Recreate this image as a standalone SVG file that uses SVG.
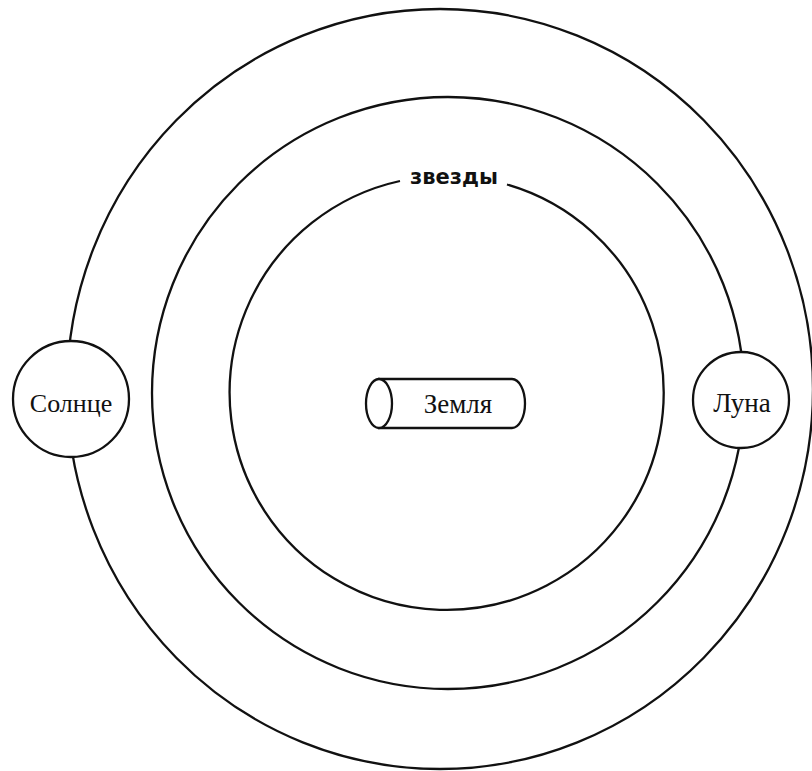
<svg xmlns="http://www.w3.org/2000/svg" width="812" height="771" viewBox="0 0 812 771">
<style>
.ln{fill:none;stroke:#111;stroke-width:2.3}
.body{fill:#fff;stroke:#111;stroke-width:2.3}
.serif{font-family:"Liberation Serif","Times New Roman",serif;font-size:26px;fill:#111;text-anchor:middle}
.sans{font-family:"DejaVu Sans","Liberation Sans",sans-serif;font-size:21px;font-weight:bold;fill:#111;text-anchor:middle}
</style>
<rect width="812" height="771" fill="#fff"/>
<g id="connectors">
<ellipse id="outer-orbit" class="ln" cx="440" cy="389" rx="373" ry="380"/>
<circle id="middle-orbit" class="ln" cx="448" cy="393" r="296"/>
<path id="stars-orbit" class="ln" d="M 400 181 A 217 217 0 1 0 507 184.5"/>
</g>
<g id="stars">
<text class="sans" x="454" y="184">звезды</text>
</g>
<g id="earth">
<path class="body" d="M 379 379 L 512 379 A 13 24.5 0 0 1 512 428 L 379 428 Z"/>
<ellipse class="body" cx="379" cy="403.5" rx="13" ry="24.5"/>
<text class="serif" x="458" y="413" style="font-size:27px">Земля</text>
</g>
<g id="sun">
<circle class="body" cx="71" cy="399" r="58"/>
<text class="serif" x="71" y="412">Солнце</text>
</g>
<g id="moon">
<circle class="body" cx="741" cy="400" r="48"/>
<text class="serif" x="742" y="412" style="font-size:27px">Луна</text>
</g>
</svg>
